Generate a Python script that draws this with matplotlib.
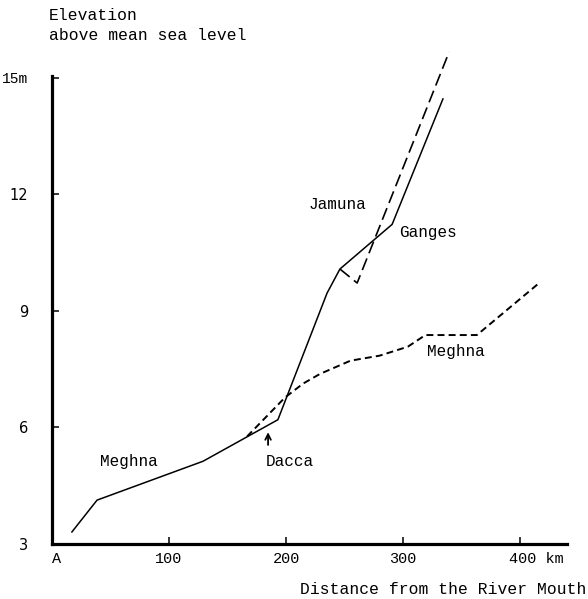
import matplotlib
matplotlib.use("Agg")
import matplotlib.pyplot as plt
from matplotlib.transforms import ScaledTranslation

plt.rcParams['lines.scale_dashes'] = False

MONO = 'Liberation Mono'
SANS = 'DejaVu Sans'

# river profiles: distance from the mouth (km), elevation (m)
main_x = [17, 38.5, 129, 193, 235, 246, 290.6, 334]
main_y = [3.31, 4.13, 5.13, 6.2, 9.46, 10.08, 11.23, 14.46]

jamuna_x = [246, 260.7, 339.3]
jamuna_y = [10.08, 9.72, 15.67]

meghna_x = [166.7, 199, 214.5, 229, 255, 280, 304, 319, 363, 417]
meghna_y = [5.77, 6.77, 7.13, 7.38, 7.72, 7.85, 8.08, 8.38, 8.38, 9.74]

xticks = [0, 100, 200, 300, 400]
xtick_labels = ['A', '100', '200', '300', '400 km']
yticks = [3, 6, 9, 12, 15]
ytick_labels = ['3', '6', '9', '12', '15m']

dacca_x = 184.6

fig = plt.figure(figsize=(5.88, 5.99), dpi=100)
ax = fig.add_axes([52 / 588, 55 / 599, 515 / 588, 468 / 599])

ax.plot(main_x, main_y, color='black', lw=1.1, clip_on=False)
ax.plot(jamuna_x, jamuna_y, color='black', lw=1.2, linestyle=(0, (9, 4)), clip_on=False)
ax.plot(meghna_x, meghna_y, color='black', lw=1.4, linestyle=(0, (5, 3)), clip_on=False)

ax.set_xlim(0, 440)
ax.set_ylim(3, 15.05)

for s in ['top', 'right']:
    ax.spines[s].set_visible(False)
for s in ['left', 'bottom']:
    ax.spines[s].set_linewidth(2.3)

ax.set_xticks(xticks)
ax.set_xticklabels(xtick_labels, fontfamily=MONO, fontsize=11)
ax.set_yticks(yticks)
ax.set_yticklabels(ytick_labels, fontfamily=SANS, fontsize=10.5)
ax.tick_params(axis='x', direction='in', length=5, width=1.1, pad=6)
ax.tick_params(axis='y', direction='in', length=5, width=1.1, pad=17)

xl = ax.get_xticklabels()
xl[0].set_ha('left')
xl[-1].set_transform(xl[-1].get_transform() + ScaledTranslation(0.16, 0, fig.dpi_scale_trans))
yl = ax.get_yticklabels()
yl[-1].set_fontfamily(MONO)
yl[-1].set_fontsize(10.5)

# river names
lab = dict(fontfamily=MONO, fontsize=11.5, ha='center', va='center')
ax.text(65.8, 5.13, 'Meghna', **lab)
ax.text(203, 5.13, 'Dacca', **lab)
ax.text(243.6, 11.74, 'Jamuna', **lab)
ax.text(321, 11.03, 'Ganges', **lab)
ax.text(345, 7.95, 'Meghna', **lab)

ax.annotate('', xy=(dacca_x, 5.95), xytext=(dacca_x, 5.48),
            arrowprops=dict(arrowstyle='->', color='black', lw=1.3))

fig.text(49 / 588, 1 - 15 / 599, 'Elevation', fontfamily=MONO, fontsize=11.8, va='center')
fig.text(49 / 588, 1 - 36 / 599, 'above mean sea level', fontfamily=MONO, fontsize=11.8, va='center')
fig.text(300 / 588, 1 - 590 / 599, 'Distance from the River Mouth', fontfamily=MONO,
         fontsize=11.8, va='center')

fig.savefig('out.png', dpi=100)
